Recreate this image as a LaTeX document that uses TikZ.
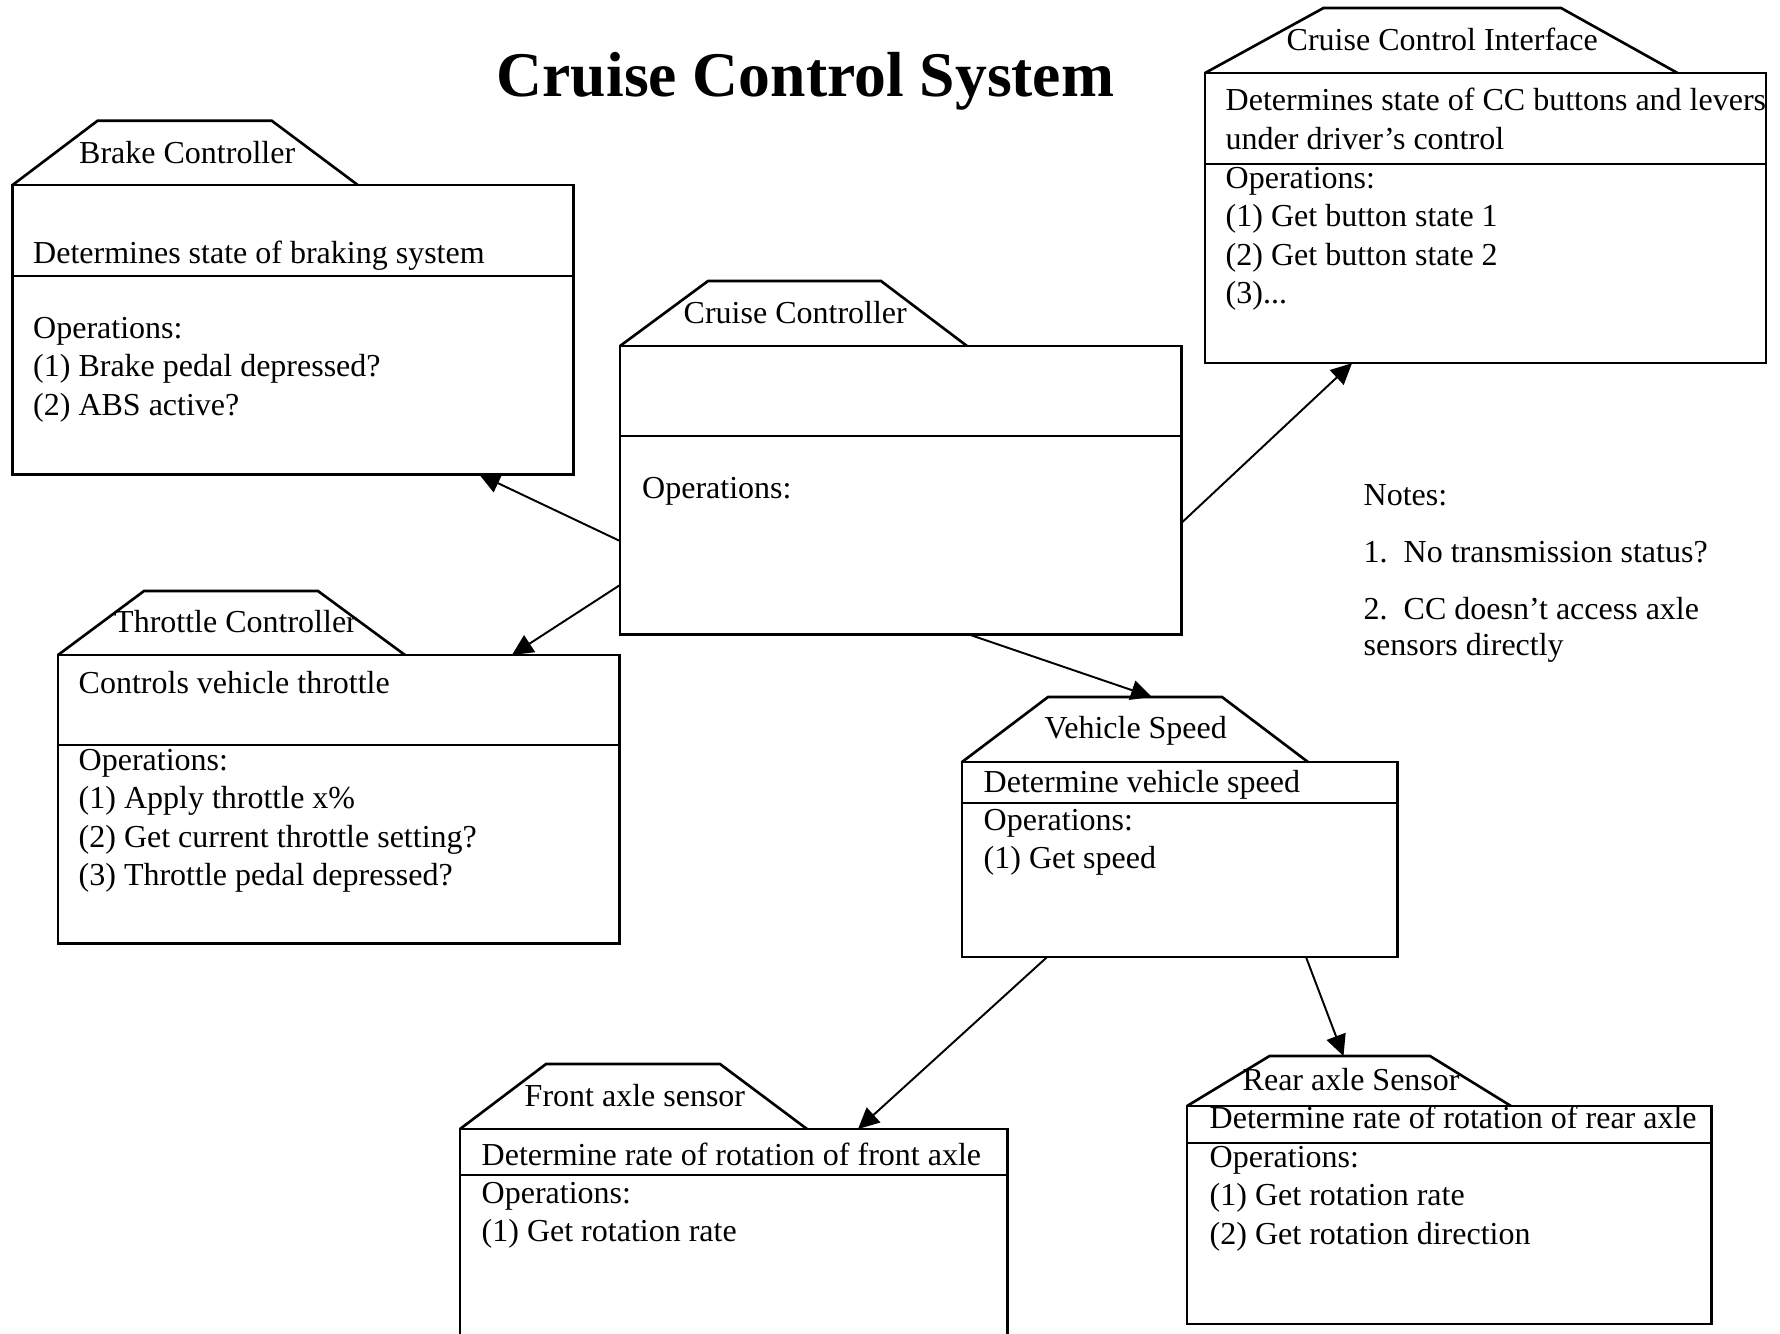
\documentclass[tikz,border=0pt]{standalone}
\usepackage{fontspec}
\setmainfont{Liberation Serif}
\usetikzlibrary{arrows.meta}

\tikzset{
  pkg/.style={draw, line width=0.75pt, rectangle, inner sep=0pt, outer sep=0pt, anchor=north west},
  tab/.style={line width=0.75pt},
  lbl/.style={anchor=base west, inner sep=0pt, font=\fontsize{9.1}{10.95}\selectfont},
  conn/.style={line width=0.55pt, -{Triangle[length=0.21cm,width=0.2cm]}}
}

\begin{document}
\begin{tikzpicture}[x=0.01cm, y=-0.01cm]
  \useasboundingbox (0,0) rectangle (1780,1333);
  \clip (0,0) rectangle (1780,1333);

  % title
  \node[anchor=base west, inner sep=0pt, font=\fontsize{18.1}{22}\selectfont\bfseries] (title) at (496,96) {Cruise Control System};

  % brake controller
  \node[pkg, minimum width=5.604cm, minimum height=2.89cm] (brake) at (12.6,185) {};
  \draw[tab] (brake.north west) -- (97.6,120.7) -- (271.7,120.7) -- (357.8,185);
  \draw[tab] (brake.west |- 0,276) -- (brake.east |- 0,276);
  \node[lbl] (brake-name) at (78.5,163) {Brake Controller};
  \node[lbl] (brake-desc) at (32.5,263) {Determines state of braking system};
  \foreach \txt [count=\i from 0] in {Operations:, {(1) Brake pedal depressed?}, {(2) ABS active?}}
    \node[lbl] (brake-op\i) at (32.5,{338+38.5*\i}) {\txt};

  % cruise controller
  \node[pkg, minimum width=5.61cm, minimum height=2.88cm] (cruise) at (620,346) {};
  \draw[tab] (cruise.north west) -- (708,281) -- (881,281) -- (967,346);
  \draw[tab] (cruise.west |- 0,436) -- (cruise.east |- 0,436);
  \node[lbl] (cruise-name) at (683,323) {Cruise Controller};
  \node[lbl] (cruise-op0) at (641.5,498) {Operations:};

  % cruise control interface
  \node[pkg, minimum width=5.605cm, minimum height=2.90cm] (cci) at (1205,73) {};
  \draw[tab] (cci.north west) -- (1323.5,8) -- (1561,8) -- (1677.5,73);
  \draw[tab] (cci.west |- 0,164) -- (cci.east |- 0,164);
  \node[lbl] (cci-name) at (1286,50) {Cruise Control Interface};
  \node[lbl] (cci-desc) at (1225,110) {Determines state of CC buttons and levers};
  \node[lbl] (cci-desc2) at (1225,149) {under driver’s control};
  \foreach \txt [count=\i from 0] in {Operations:, {(1) Get button state 1}, {(2) Get button state 2}}
    \node[lbl] (cci-op\i) at (1225,{188+38.5*\i}) {\txt};
  \node[lbl] (cci-op3) at (1225,303.5) {(3)...};

  % throttle controller
  \node[pkg, minimum width=5.61cm, minimum height=2.88cm] (throttle) at (58,655) {};
  \draw[tab] (throttle.north west) -- (144,591) -- (318,591) -- (405,655);
  \draw[tab] (throttle.west |- 0,745) -- (throttle.east |- 0,745);
  \node[lbl] (throttle-name) at (113.5,632) {Throttle Controller};
  \node[lbl] (throttle-desc) at (78,693) {Controls vehicle throttle};
  \foreach \txt [count=\i from 0] in {Operations:, {(1) Apply throttle x\%}, {(2) Get current throttle setting?}, {(3) Throttle pedal depressed?}}
    \node[lbl] (throttle-op\i) at (78,{770+38.5*\i}) {\txt};

  % vehicle speed
  \node[pkg, minimum width=4.35cm, minimum height=1.95cm] (speed) at (962,762) {};
  \draw[tab] (speed.north west) -- (1048,697) coordinate (speed-tl) -- (1222,697) -- (1308,762);
  \draw[tab] (speed.west |- 0,803) -- (speed.east |- 0,803);
  \node[lbl] (speed-name) at (1044,738) {Vehicle Speed};
  \node[lbl] (speed-desc) at (983,792) {Determine vehicle speed};
  \foreach \txt [count=\i from 0] in {Operations:, {(1) Get speed}}
    \node[lbl] (speed-op\i) at (983,{830+38.5*\i}) {\txt};

  % front axle sensor
  \node[pkg, minimum width=5.47cm, minimum height=2.40cm] (front) at (460,1129) {};
  \draw[tab] (front.north west) -- (546,1064) -- (720,1064) -- (807,1129);
  \draw[tab] (front.west |- 0,1175) -- (front.east |- 0,1175);
  \node[lbl] (front-name) at (524,1106) {Front axle sensor};
  \node[lbl] (front-desc) at (481,1165) {Determine rate of rotation of front axle};
  \foreach \txt [count=\i from 0] in {Operations:, {(1) Get rotation rate}}
    \node[lbl] (front-op\i) at (481,{1203+38.5*\i}) {\txt};

  % rear axle sensor
  \node[pkg, minimum width=5.24cm, minimum height=2.18cm] (rear) at (1187,1106) {};
  \draw[tab] (rear.north west) -- (1269.5,1056) coordinate (rear-tl) -- (1430,1056) -- (1511,1106);
  \draw[tab] (rear.west |- 0,1143) -- (rear.east |- 0,1143);
  \node[lbl] (rear-name) at (1242,1090) {Rear axle Sensor};
  \node[lbl] (rear-desc) at (1209,1128) {Determine rate of rotation of rear axle};
  \foreach \txt [count=\i from 0] in {Operations:, {(1) Get rotation rate}, {(2) Get rotation direction}}
    \node[lbl] (rear-op\i) at (1209,{1167+38.5*\i}) {\txt};

  % notes
  \node[lbl] (notes) at (1363,505) {Notes:};
  \node[lbl] (note-a) at (1363,562) {1.\ \ No transmission status?};
  \node[lbl] (note-b) at (1363,619) {2.\ \ CC doesn’t access axle};
  \node[lbl] (note-b2) at (1363,655) {sensors directly};

  % connectors
  \draw[conn] (cruise.west |- 0,541) -- (brake.south -| 479,0);
  \draw[conn] (cruise.west |- 0,585) -- (throttle.north -| 512,0);
  \draw[conn] (cruise.east |- 0,523) -- (cci.south -| 1352,0);
  \draw[conn] (cruise.south -| 968,0) -- (speed-tl -| 1152,0);
  \draw[conn] (speed.south -| 1047,0) -- (front.north -| 858,0);
  \draw[conn] (speed.south -| 1306,0) -- (rear-tl -| 1343.5,0);
\end{tikzpicture}
\end{document}
